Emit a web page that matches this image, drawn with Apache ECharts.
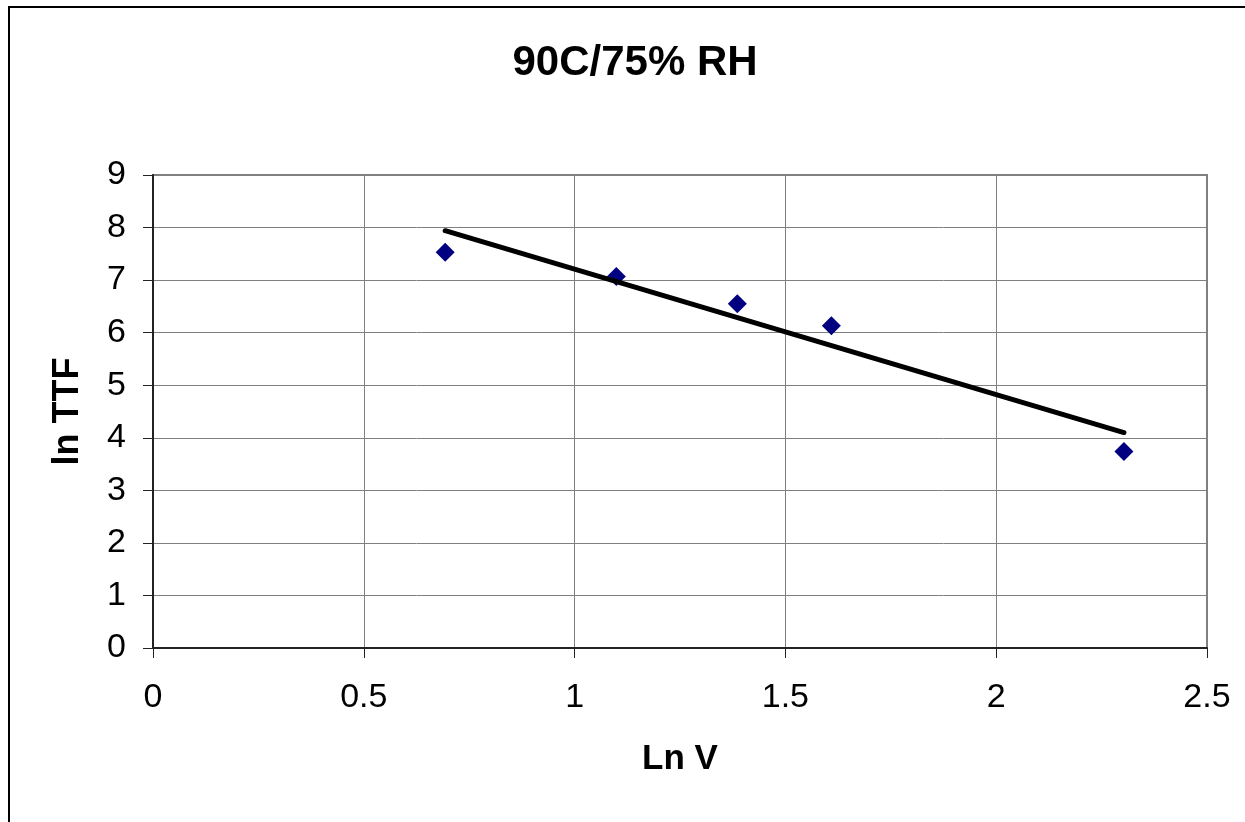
<!DOCTYPE html>
<html>
<head>
<meta charset="utf-8">
<script src="https://cdn.jsdelivr.net/npm/echarts@6/dist/echarts.min.js"></script>
<style>
html,body{margin:0;padding:0;background:#fff;}
#chart{width:1245px;height:822px;}
</style>
</head>
<body>
<div id="chart"></div>
<script>
// Data
const lnV = [0.693, 1.099, 1.386, 1.609, 2.303];
const lnTTF = [7.53, 7.07, 6.55, 6.13, 3.74];
const trendX = [0.693, 2.303];
const trendY = [7.94, 4.10];
const titleText = '90C/75% RH';
const xName = 'Ln V';
const yName = 'ln TTF';

const FONT = "'Liberation Sans', Arial, sans-serif";
const chart = echarts.init(document.getElementById('chart'), null, {renderer: 'canvas'});

const option = {
  backgroundColor: '#ffffff',
  animation: false,
  graphic: [
    {
      type: 'rect',
      shape: {x: 9, y: 7, width: 1400, height: 1000},
      style: {fill: 'none', stroke: '#000', lineWidth: 2},
      z: 0
    },
    {
      type: 'text',
      style: {
        text: titleText,
        x: 635, y: 63,
        textAlign: 'center',
        textVerticalAlign: 'middle',
        font: 'bold 42px ' + FONT,
        fill: '#000'
      }
    }
  ],
  grid: {
    left: 153, top: 175, right: 38, bottom: 174,
    show: true, borderColor: '#808080', borderWidth: 2,
    containLabel: false
  },
  xAxis: {
    type: 'value', min: 0, max: 2.5, interval: 0.5,
    name: xName, nameLocation: 'middle', nameGap: 94,
    nameTextStyle: {fontFamily: FONT, fontWeight: 'bold', fontSize: 35, color: '#000'},
    axisLine: {show: true, onZero: false, lineStyle: {color: '#222', width: 2}},
    axisTick: {show: true, inside: false, length: 10, lineStyle: {color: '#222', width: 1}},
    axisLabel: {fontFamily: FONT, fontSize: 34, color: '#000', margin: 33},
    splitLine: {show: true, lineStyle: {color: '#808080', width: 1}}
  },
  yAxis: {
    type: 'value', min: 0, max: 9, interval: 1,
    name: yName, nameLocation: 'middle', nameGap: 67,
    nameTextStyle: {fontFamily: FONT, fontWeight: 'bold', fontSize: 36, color: '#000'},
    axisLine: {show: true, onZero: false, lineStyle: {color: '#222', width: 2}},
    axisTick: {show: true, inside: false, length: 10, lineStyle: {color: '#222', width: 1}},
    axisLabel: {fontFamily: FONT, fontSize: 34, color: '#000', margin: 27},
    splitLine: {show: true, lineStyle: {color: '#808080', width: 1}}
  },
  series: [
    {
      type: 'scatter',
      data: lnV.map((x, i) => [x, lnTTF[i]]),
      symbol: 'diamond',
      symbolSize: 19,
      itemStyle: {color: '#000080', opacity: 1},
      z: 2
    },
    {
      type: 'line',
      data: trendX.map((x, i) => [x, trendY[i]]),
      showSymbol: false,
      symbol: 'none',
      lineStyle: {color: '#000', width: 5, cap: 'round'},
      z: 3
    }
  ]
};
chart.setOption(option);
</script>
</body>
</html>
